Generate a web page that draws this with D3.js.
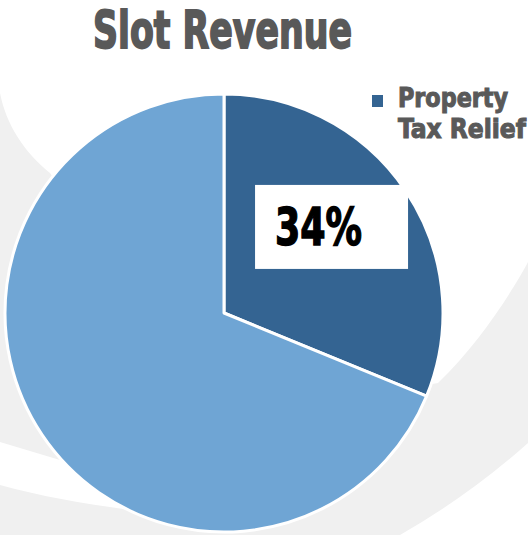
<!DOCTYPE html>
<html>
<head>
<meta charset="utf-8">
<script src="https://cdn.jsdelivr.net/npm/d3@7"></script>
<style>
  body { margin: 0; background: #fff; }
  svg { display: block; }
  .cond { font-family: "Liberation Sans Narrow", "DejaVu Sans Condensed", "Arial Narrow", sans-serif; font-weight: bold; font-stretch: condensed; }
</style>
</head>
<body>
<div id="chart"></div>
<script>
/* chart data */
var titleText = "Slot Revenue";
var categories = ["Property Tax Relief", "Other"];
var values = [31.2, 68.8];
var labelText = ["34%", ""];
var legendItems = ["Property Tax Relief"];
var legendLines = [["Property", "Tax Relief"]];

var w = 528, h = 535;
var colors = d3.scaleOrdinal().domain(categories).range(["#346492", "#6fa5d4"]);

var svg = d3.select("#chart").append("svg")
    .attr("width", w)
    .attr("height", h);

/* background swooshes (theme decoration) */
var bg = svg.append("g");
bg.append("rect").attr("width", w).attr("height", h).attr("fill", "#f0f0f0");
// big white area at the top
bg.append("path")
    .attr("d", "M0,0 H528 V262 C512,292 478,345 438,383 L224,420 L50,173 C24,152 6,124 0,93 Z")
    .attr("fill", "#fff");
// white band lower left
bg.append("path")
    .attr("d", "M0,442 C20,448 40,454 60,460 L160,470 L130,510 C80,503 40,496 0,485 Z")
    .attr("fill", "#fff");
// white corner lower right
bg.append("path")
    .attr("d", "M528,443 Q470,495 400,535 L528,535 Z")
    .attr("fill", "#fff");

/* pie */
var cx = 224, cy = 313, r = 219;
var pie = d3.pie().sort(null).value(function(d) { return d.value; });
var arc = d3.arc().innerRadius(0).outerRadius(r);

var data = categories.map(function(c, i) { return { name: c, value: values[i], label: labelText[i] }; });
var arcs = pie(data);

var g = svg.append("g").attr("transform", "translate(" + cx + "," + cy + ")");
g.selectAll("path.slice")
    .data(arcs)
    .enter()
    .append("path")
    .attr("class", "slice")
    .attr("d", arc)
    .attr("fill", function(d) { return colors(d.data.name); })
    .attr("stroke", "#fff")
    .attr("stroke-width", 3)
    .attr("stroke-linejoin", "round");

/* data label box, placed around the slice centroid */
var lab = g.selectAll("g.lab")
    .data(arcs.filter(function(d) { return d.data.label; }))
    .enter()
    .append("g")
    .attr("class", "lab")
    .attr("transform", function(d) {
        var c = d3.arc().innerRadius(r * 0.55).outerRadius(r * 0.55).centroid(d);
        return "translate(" + c[0] + "," + c[1] + ")";
    });
lab.append("rect")
    .attr("x", -69).attr("y", -61)
    .attr("width", 153).attr("height", 84)
    .attr("fill", "#fff");
lab.append("text")
    .attr("class", "cond")
    .attr("x", -49).attr("y", -1)
    .attr("font-size", 52)
    .attr("fill", "#000")
    .attr("stroke", "#000")
    .attr("stroke-width", 1.4)
    .attr("textLength", 87)
    .attr("lengthAdjust", "spacingAndGlyphs")
    .text(function(d) { return d.data.label; });

/* title */
svg.append("text")
    .attr("class", "cond")
    .attr("x", 93).attr("y", 48)
    .attr("font-size", 51)
    .attr("fill", "#595959")
    .attr("stroke", "#595959")
    .attr("stroke-width", 1.8)
    .attr("textLength", 259)
    .attr("lengthAdjust", "spacingAndGlyphs")
    .text(titleText);

/* legend */
var leg = svg.append("g").attr("transform", "translate(372,95)");
leg.selectAll("rect")
    .data(legendItems)
    .enter()
    .append("rect")
    .attr("width", 11).attr("height", 12)
    .attr("fill", function(d) { return colors(d); });
var lt = leg.append("text")
    .attr("class", "cond")
    .attr("font-size", 26)
    .attr("fill", "#595959")
    .attr("stroke", "#595959")
    .attr("stroke-width", 1);
lt.selectAll("tspan")
    .data(legendLines[0])
    .enter()
    .append("tspan")
    .attr("x", 26)
    .attr("y", function(d, i) { return 12 + i * 31; })
    .attr("textLength", function(d, i) { return i == 0 ? 110 : 128; })
    .attr("lengthAdjust", "spacingAndGlyphs")
    .text(function(d) { return d; });
</script>
</body>
</html>
